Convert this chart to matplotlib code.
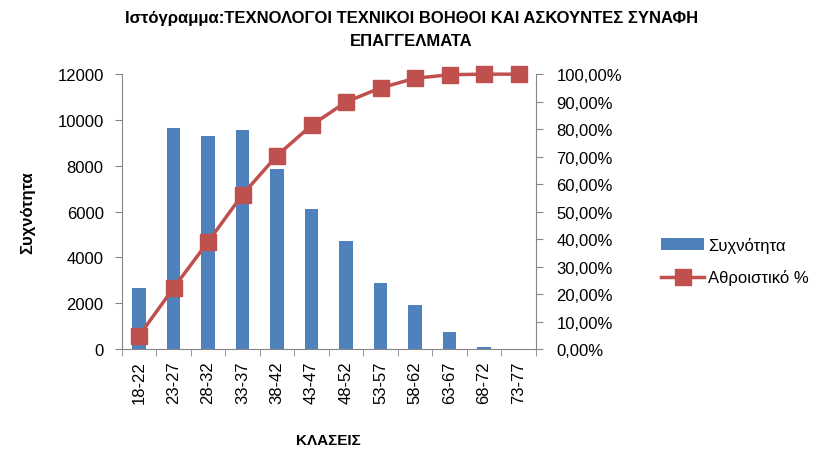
import numpy as np
import matplotlib.pyplot as plt
from matplotlib.ticker import FuncFormatter

plt.rcParams['font.family'] = ['Liberation Sans', 'DejaVu Sans']

classes = ['18-22', '23-27', '28-32', '33-37', '38-42', '43-47',
           '48-52', '53-57', '58-62', '63-67', '68-72', '73-77']
freq = [2680, 9670, 9320, 9580, 7870, 6110, 4700, 2860, 1930, 750, 90, 0]
cum_pct = [4.8, 22.2, 39.0, 56.2, 70.4, 81.4, 89.9, 95.0, 98.5, 99.8, 100.0, 100.0]

bar_color = '#4F81BD'
line_color = '#C0504D'
axis_color = '#868686'

fig = plt.figure(figsize=(8.23, 4.52), dpi=100)
ax = fig.add_axes([0.148, 0.2257, 0.503, 0.608])
x = np.arange(len(classes))

ax.bar(x, freq, width=0.4, color=bar_color, label='Συχνότητα', zorder=2)
ax.set_xlim(-0.5, len(classes) - 0.5)
ax.set_ylim(0, 12000)
ax.set_yticks(range(0, 12001, 2000))
ax.set_xticks(x)
ax.set_xticklabels(classes, rotation=90, fontsize=12)
ax.set_xticks(np.arange(-0.5, len(classes), 1), minor=True)
ax.tick_params(axis='x', which='major', length=0, pad=8)
ax.tick_params(axis='x', which='minor', length=5, color=axis_color, direction='out')
ax.tick_params(axis='y', labelsize=12, length=5, color=axis_color, pad=8)
ax.spines['top'].set_visible(False)
ax.spines['right'].set_visible(False)
for s in ('left', 'bottom'):
    ax.spines[s].set_color(axis_color)

ax2 = ax.twinx()
ax2.plot(x, cum_pct, color=line_color, lw=2.5, marker='s', markersize=11,
         label='Αθροιστικό %', zorder=3, clip_on=False)
ax2.set_ylim(0, 100)
ax2.set_yticks(range(0, 101, 10))
ax2.yaxis.set_major_formatter(FuncFormatter(lambda v, p: f'{v:.2f}%'.replace('.', ',')))
ax2.tick_params(axis='y', labelsize=12, length=5, color=axis_color, pad=10)
ax2.spines['top'].set_visible(False)
ax2.spines['left'].set_visible(False)
ax2.spines['bottom'].set_visible(False)
ax2.spines['right'].set_color(axis_color)

ax.set_ylabel('Συχνότητα', fontsize=12, fontweight='bold', labelpad=16)
ax.set_xlabel('ΚΛΑΣΕΙΣ', fontsize=11, fontweight='bold', labelpad=22)
fig.suptitle('Ιστόγραμμα:ΤΕΧΝΟΛΟΓΟΙ ΤΕΧΝΙΚΟΙ ΒΟΗΘΟΙ ΚΑΙ ΑΣΚΟΥΝΤΕΣ ΣΥΝΑΦΗ\nΕΠΑΓΓΕΛΜΑΤΑ',
             fontsize=12, fontweight='bold', y=0.975, linespacing=1.6)

h1, l1 = ax.get_legend_handles_labels()
h2, l2 = ax2.get_legend_handles_labels()
fig.legend(h1 + h2, l1 + l2, loc='center left', bbox_to_anchor=(0.785, 0.42),
           frameon=False, fontsize=12, handlelength=2.6, labelspacing=1.0,
           handletextpad=0.2)

fig.savefig('out.png', dpi=100)
